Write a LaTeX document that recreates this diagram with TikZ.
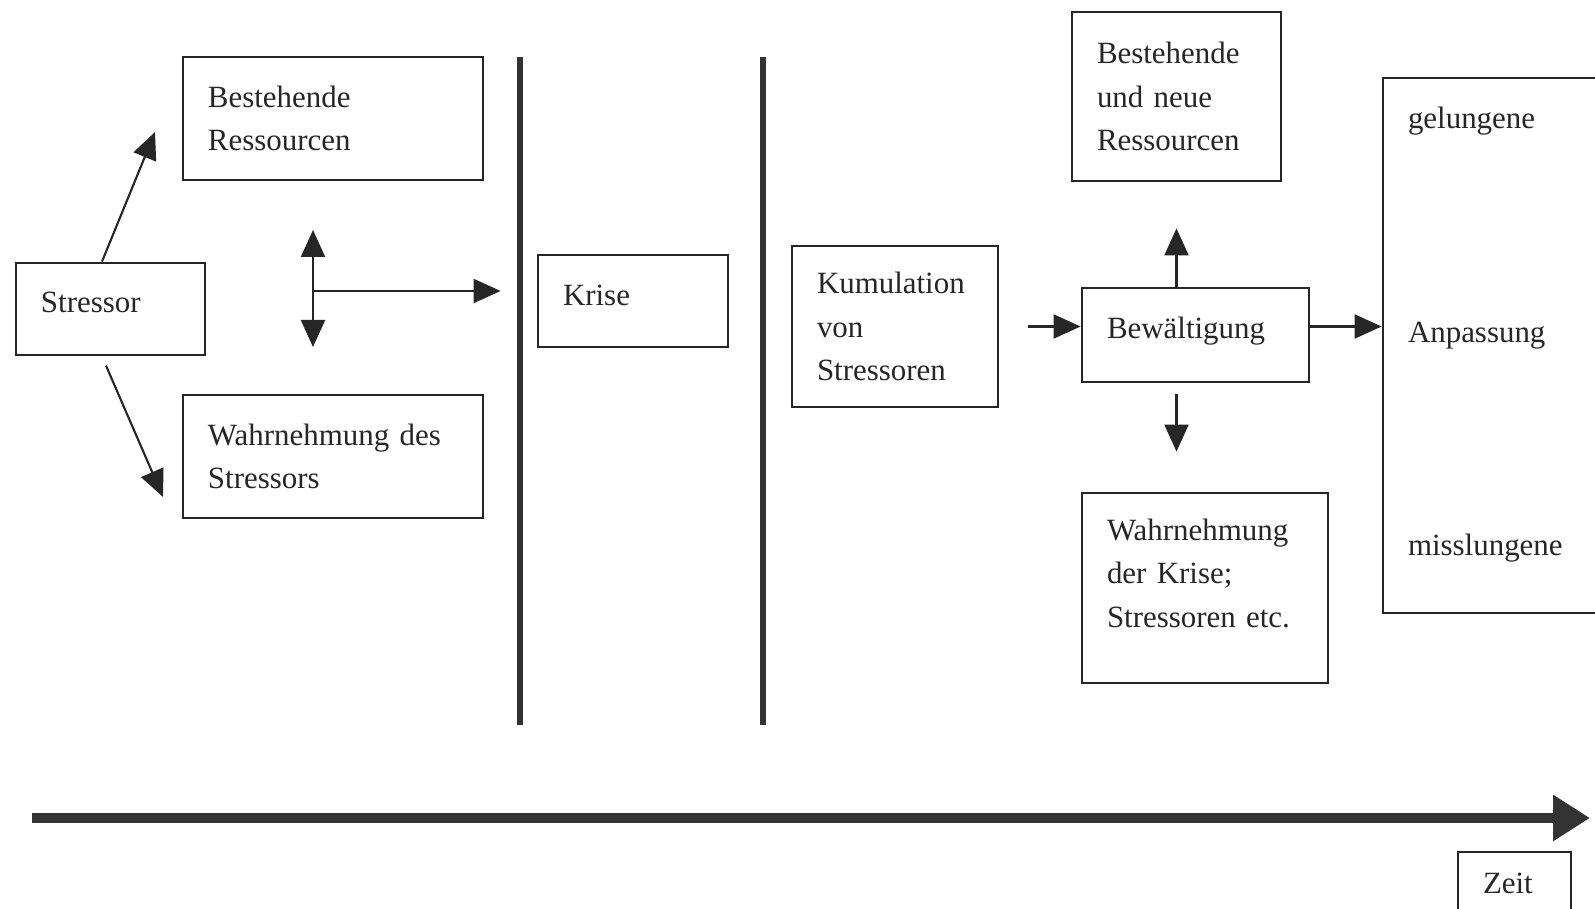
\documentclass[tikz,border=0pt]{standalone}
\usepackage{fontspec}
\setmainfont{Liberation Serif}
\usetikzlibrary{arrows.meta, calc}

\begin{document}
\begin{tikzpicture}[
    box/.style={draw=black!85, line width=0.8pt, inner xsep=0.25cm, inner ysep=0pt, align=left, text=black!85, font=\fontsize{8.8}{12.4}\selectfont},
    arr/.style={draw=black!85, line width=0.6pt, >={Triangle[length=0.27cm, width=0.24cm]}},
    sep/.style={draw=black!80, line width=1.8pt},
    zeitpfeil/.style={draw=black!80, line width=2.8pt, >={Triangle[length=0.37cm, width=0.44cm]}}
  ]
    \clip (0,0) rectangle (15.95,9.09);
    \fill[white] (0,0) rectangle (15.95,9.09);

    \node[box, text width=1.39cm, minimum height=0.92cm, text depth=0.14cm] (stressor) at (1.105,6.00) {Stressor};
    \node[box, text width=2.50cm, minimum height=1.23cm] (resalt) at (3.33,7.905) {Bestehende\\Ressourcen};
    \node[box, text width=2.50cm, minimum height=1.23cm] (wahrstr) at (3.33,4.525) {Wahrnehmung des\\Stressors};
    \node[box, text width=1.40cm, minimum height=0.92cm, text depth=0.12cm] (krise) at (6.33,6.08) {Krise};
    \node[box, text width=1.56cm, minimum height=1.61cm] (kumul) at (8.95,5.825) {Kumulation\\von\\Stressoren};
    \node[box, text width=1.59cm, minimum height=1.69cm] (resneu) at (11.765,8.125) {Bestehende\\und neue\\Ressourcen};
    \node[box, text width=1.77cm, minimum height=0.94cm, text depth=0.15cm] (bew) at (11.955,5.74) {Bewältigung};
    \node[box, text width=1.96cm, minimum height=1.90cm, text depth=1.17cm] (wahrkr) at (12.05,3.21) {Wahrnehmung\\der Krise;\\Stressoren etc.};
    \node[box, text width=1.92cm, minimum height=5.35cm, text depth=4.55cm] (anp) at (15.04,5.635) {gelungene\\[1.70cm]Anpassung\\[1.70cm]misslungene};
    \node[box, text width=0.63cm, minimum height=0.73cm, text depth=0.1cm] (zeit) at (15.145,0.205) {Zeit};

    \coordinate (ziel1) at (1.55,7.77);
    \coordinate (ziel2) at (1.63,4.12);
    \coordinate (knoten) at (3.13,6.18);
    \coordinate (kn-oben) at (3.13,6.79);
    \coordinate (kn-unten) at (3.13,5.62);
    \coordinate (zeit-a) at (0.32,0.91);
    \coordinate (zeit-b) at (15.90,0.91);

    \draw[arr, ->] ($(stressor.north)+(-0.085,0)$) -- (ziel1);
    \draw[arr, ->, shorten <=0.1cm] ($(stressor.south)+(-0.085,0)$) -- (ziel2);
    \draw[arr, <->] (kn-oben) -- (kn-unten);
    \draw[arr, ->, shorten >=0.36cm] (knoten) -- (knoten -| krise.west);
    \draw[arr, ->, shorten <=0.29cm] (kumul.east) -- (kumul.east -| bew.west);
    \draw[arr, ->] (kumul.east -| bew.east) -- (kumul.east -| anp.west);
    \draw[arr, ->, shorten >=0.46cm] (bew.north -| resneu.south) -- (resneu.south);
    \draw[arr, ->, shorten <=0.11cm, shorten >=0.40cm] (bew.south -| resneu.south) -- (wahrkr.north -| resneu.south);

    \draw[sep] (5.20,8.52) -- (5.20,1.84);
    \draw[sep] (7.63,8.52) -- (7.63,1.84);
    \draw[zeitpfeil, ->] (zeit-a) -- (zeit-b);
\end{tikzpicture}
\end{document}
